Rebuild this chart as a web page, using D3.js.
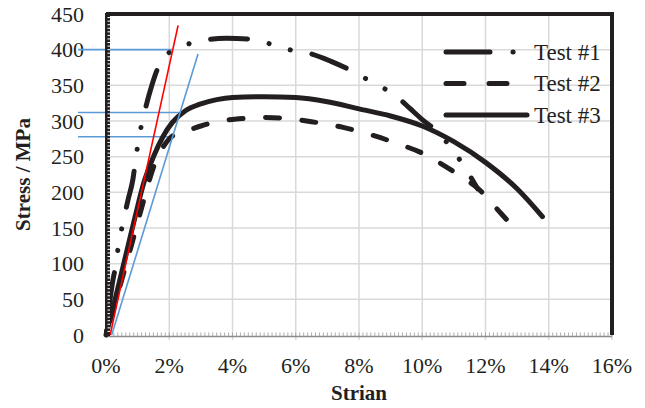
<!DOCTYPE html>
<html>
<head>
  <meta charset="UTF-8">
  <style>
    body { margin: 0; background: #fff; }
    text { font-family: "Liberation Serif", "Times New Roman", serif; fill: #231f20; }
  </style>
</head>
<body>
<div id="chart_div"></div>

<script src="https://d3js.org/d3.v7.min.js"></script>
<script>

let width = 645, height = 408;

// strain in %, stress in MPa
const test1Strain = [0, 0.1, 0.2, 0.3, 0.4, 0.55, 0.7, 0.85, 0.95, 1.07, 1.25, 1.45, 1.62, 1.8, 2.05, 2.3, 2.6, 3.2, 3.8, 4.5, 5.2, 5.8, 6.5, 7.1, 7.6, 8.1, 8.7, 9.2, 9.6, 10.0, 10.5, 10.9, 11.3, 11.75];
const test1Stress = [0, 40, 72, 96, 127, 160, 190, 218, 250, 283, 318, 350, 372, 386, 398, 404, 408, 414, 416, 415, 408, 400, 394, 384, 374, 362, 348, 334, 318, 302, 284, 263, 238, 205];

const test2Strain = [0, 0.4, 0.8, 1.2, 1.5, 1.8, 2.1, 2.6, 3.0, 3.5, 4.2, 5.0, 5.6, 6.5, 7.5, 8.5, 9.3, 10.0, 10.6, 11.3, 11.8, 12.2, 12.5, 12.85];
const test2Stress = [0, 62, 125, 190, 235, 263, 279, 287, 293, 299, 303, 305, 304, 299, 291, 279, 267, 255, 240, 220, 204, 185, 170, 153];

const test3Strain = [0, 0.3, 0.6, 0.9, 1.2, 1.5, 1.8, 2.1, 2.5, 3.0, 3.5, 4.0, 5.0, 6.0, 7.0, 8.0, 9.0, 10.0, 11.0, 12.0, 13.0, 13.8];
const test3Stress = [0, 52, 107, 162, 214, 250, 278, 298, 314, 324, 330, 333, 334, 333, 327, 317, 307, 293, 271, 242, 205, 166];

const seriesNames = ["Test #1", "Test #2", "Test #3"];

// fitted lines (strain %, stress MPa)
const redLine = [[0.13, 0], [2.28, 434]];
const blueLine = [[0.18, 0], [2.91, 394]];
// horizontal guide lines: stress level and strain where they end
const guideStress = [400, 312, 278];
const guideEnd = [2.1, 2.4, 2.1];

const xTicks = [0, 2, 4, 6, 8, 10, 12, 14, 16];
const yTicks = [0, 50, 100, 150, 200, 250, 300, 350, 400, 450];

const ink = "#231f20";

let svg = d3.select("#chart_div")
  .append("svg")
    .attr("width", width)
    .attr("height", height);

let x = d3.scaleLinear().domain([0, 16]).range([106, 612]);
let y = d3.scaleLinear().domain([0, 450]).range([335, 14]);

// grid
svg.append("g")
  .selectAll("line")
  .data(xTicks.slice(1))
  .join("line")
    .attr("x1", d => x(d)).attr("x2", d => x(d))
    .attr("y1", y(450)).attr("y2", y(0) + 5)
    .attr("stroke", "#d9d9d9").attr("stroke-width", 1.5);
svg.append("g")
  .selectAll("line")
  .data(yTicks.slice(1))
  .join("line")
    .attr("x1", x(0)).attr("x2", x(16))
    .attr("y1", d => y(d)).attr("y2", d => y(d))
    .attr("stroke", "#d9d9d9").attr("stroke-width", 1.5);

// bottom axis: grey line with minor ticks
svg.append("line")
  .attr("x1", x(0)).attr("x2", x(16))
  .attr("y1", y(0) + 1.5).attr("y2", y(0) + 1.5)
  .attr("stroke", "#8c8c8c").attr("stroke-width", 1.5);
svg.append("g")
  .selectAll("line")
  .data(d3.range(0, 16.01, 0.125))
  .join("line")
    .attr("x1", d => x(d)).attr("x2", d => x(d))
    .attr("y1", y(0) - 2.5).attr("y2", y(0) + 1)
    .attr("stroke", "#9a9a9a").attr("stroke-width", 0.8);

// x tick labels
svg.append("g")
  .selectAll("text")
  .data(xTicks)
  .join("text")
    .attr("x", d => x(d))
    .attr("y", 373)
    .attr("text-anchor", "middle")
    .style("font-size", "22px")
    .text(d => d + "%");

// y tick labels
svg.append("g")
  .selectAll("text")
  .data(yTicks)
  .join("text")
    .attr("x", 84)
    .attr("y", d => y(d) + 7.5)
    .attr("text-anchor", "end")
    .style("font-size", "22px")
    .text(d => d);

// axis titles
svg.append("text")
  .attr("x", x(8))
  .attr("y", 400)
  .attr("text-anchor", "middle")
  .style("font-size", "21px")
  .style("font-weight", "bold")
  .text("Strian");
svg.append("text")
  .attr("transform", "translate(30," + y(225) + ") rotate(-90)")
  .attr("text-anchor", "middle")
  .style("font-size", "21px")
  .style("font-weight", "bold")
  .text("Stress / MPa");

// guide lines
svg.append("g")
  .selectAll("line")
  .data(guideStress)
  .join("line")
    .attr("x1", 78).attr("x2", (d, i) => x(guideEnd[i]))
    .attr("y1", d => y(d)).attr("y2", d => y(d))
    .attr("stroke", "#5b9bd5").attr("stroke-width", 1.6);

let line = d3.line()
  .x(d => x(d[0]))
  .y(d => y(d[1]))
  .curve(d3.curveMonotoneX);

const dashes = ["37 22 0.1 22 0.1 22", "14 22.5", null];
const periods = [103, 36.5, 0];
// strain (%) where one dash should begin, to put the pattern in phase
const dashStart = [3.28, 7.33, null];
const series = [
  d3.zip(test1Strain, test1Stress),
  d3.zip(test2Strain, test2Stress),
  d3.zip(test3Strain, test3Stress)
];

// path length at which the path reaches a given screen x
function lengthAtX(node, px) {
  let lo = 0, hi = node.getTotalLength();
  for (let k = 0; k < 40; k++) {
    let mid = (lo + hi) / 2;
    if (node.getPointAtLength(mid).x < px) lo = mid; else hi = mid;
  }
  return lo;
}

svg.append("g")
  .selectAll("path")
  .data(series)
  .join("path")
    .attr("d", line)
    .attr("fill", "none")
    .attr("stroke", ink)
    .attr("stroke-width", 5)
    .attr("stroke-linecap", "round")
    .attr("stroke-dasharray", (d, i) => dashes[i])
    .each(function(d, i) {
      if (dashStart[i] === null) return;
      let L = lengthAtX(this, x(dashStart[i]));
      d3.select(this).attr("stroke-dashoffset", periods[i] - (L % periods[i]));
    });

// fitted lines
svg.append("path")
  .attr("d", d3.line().x(d => x(d[0])).y(d => y(d[1]))(blueLine))
  .attr("stroke", "#5b9bd5").attr("stroke-width", 1.6);
svg.append("path")
  .attr("d", d3.line().x(d => x(d[0])).y(d => y(d[1]))(redLine))
  .attr("stroke", "#ff0000").attr("stroke-width", 1.6);

// left axis: thick black bar with white minor ticks
svg.append("rect")
  .attr("x", x(0) - 1).attr("y", y(450) - 1)
  .attr("width", 5).attr("height", y(0) - y(450) + 2)
  .attr("fill", ink);
svg.append("g")
  .selectAll("line")
  .data(d3.range(5, 450, 5))
  .join("line")
    .attr("x1", x(0) + 1.5).attr("x2", x(0) + 4)
    .attr("y1", d => y(d)).attr("y2", d => y(d))
    .attr("stroke", "#fff").attr("stroke-width", 1);

// top and right borders
svg.append("path")
  .attr("d", "M" + x(0) + "," + y(450) + "H" + x(16) + "V" + y(0))
  .attr("fill", "none")
  .attr("stroke", ink)
  .attr("stroke-width", 4);

// legend
let legend = svg.append("g");
seriesNames.forEach((name, i) => {
  let ly = 52 + i * 31.5;
  legend.append("line")
    .attr("x1", 446).attr("x2", i === 1 ? 510 : 527)
    .attr("y1", ly).attr("y2", ly)
    .attr("stroke", ink)
    .attr("stroke-width", 5)
    .attr("stroke-linecap", "round")
    .attr("stroke-dasharray", i === 0 ? "44 23 0.1 40" : i === 1 ? "18 25" : null);
  legend.append("text")
    .attr("x", 534)
    .attr("y", ly + 7.5)
    .style("font-size", "23px")
    .text(name);
});

</script>

</body>
</html>
